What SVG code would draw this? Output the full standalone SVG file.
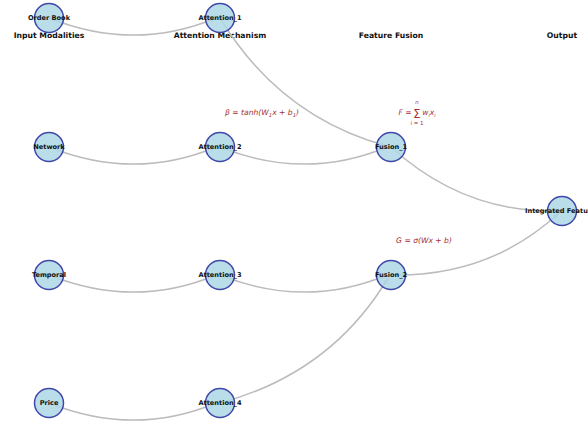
<svg xmlns="http://www.w3.org/2000/svg" width="588" height="421" viewBox="0 0 588 421">
<style>
.edge{fill:none;stroke:#bcbcbc;stroke-width:1.5}
.node circle{fill:#ADD8E6;fill-opacity:0.85;stroke:#3f47aa;stroke-width:1.5}
.node text{font-family:"DejaVu Sans",sans-serif;font-weight:bold;font-size:6.6px;fill:#111;text-anchor:middle;dominant-baseline:central}
.hdr{font-family:"DejaVu Sans",sans-serif;font-weight:bold;font-size:7.7px;fill:#111;text-anchor:middle}
.eq{font-family:"DejaVu Sans",sans-serif;font-style:italic;font-size:7.6px;fill:#a63030;text-anchor:middle}
.eqs{font-family:"DejaVu Sans",sans-serif;font-size:5.5px;fill:#a63030;text-anchor:middle}
</style>
<defs>
<marker id="arr" viewBox="0 0 10 10" refX="10" refY="5" markerWidth="6" markerHeight="6" orient="auto" markerUnits="userSpaceOnUse">
<path d="M0,1 L10,5 L0,9 z" fill="#bcbcbc"/>
</marker>
</defs>
<rect width="588" height="421" fill="#ffffff"/>
<g id="headers">
<text class="hdr" x="49" y="38">Input Modalities</text>
<text class="hdr" x="220" y="38">Attention Mechanism</text>
<text class="hdr" x="391" y="38">Feature Fusion</text>
<text class="hdr" x="562" y="38">Output</text>
</g>
<g id="connectors">
<path class="edge" marker-end="url(#arr)" d="M49,18 Q134.5,52.2 216,18"/>
<path class="edge" marker-end="url(#arr)" d="M49,147 Q134.5,181.2 216,147"/>
<path class="edge" marker-end="url(#arr)" d="M49,275 Q134.5,309.2 216,275"/>
<path class="edge" marker-end="url(#arr)" d="M49,403 Q134.5,437.2 216,403"/>
<path class="edge" marker-end="url(#arr)" d="M220,18 Q279.7,116.7 387,146"/>
<path class="edge" marker-end="url(#arr)" d="M220,147 Q305.5,181.2 387,147"/>
<path class="edge" marker-end="url(#arr)" d="M220,275 Q305.5,309.2 387,275"/>
<path class="edge" marker-end="url(#arr)" d="M220,403 Q331.1,373.2 388,278"/>
<path class="edge" marker-end="url(#arr)" d="M391,147 Q463.7,213.2 558,211"/>
<path class="edge" marker-end="url(#arr)" d="M391,275 Q489.3,277.2 559,213"/>
</g>
<g id="n_orderbook" class="node"><circle cx="49" cy="18" r="14.5"/><text x="49" y="18">Order Book</text></g>
<g id="n_network" class="node"><circle cx="49" cy="147" r="14.5"/><text x="49" y="147">Network</text></g>
<g id="n_temporal" class="node"><circle cx="49" cy="275" r="14.5"/><text x="49" y="275">Temporal</text></g>
<g id="n_price" class="node"><circle cx="49" cy="403" r="14.5"/><text x="49" y="403">Price</text></g>
<g id="n_att1" class="node"><circle cx="220" cy="18" r="14.5"/><text x="220" y="18">Attention_1</text></g>
<g id="n_att2" class="node"><circle cx="220" cy="147" r="14.5"/><text x="220" y="147">Attention_2</text></g>
<g id="n_att3" class="node"><circle cx="220" cy="275" r="14.5"/><text x="220" y="275">Attention_3</text></g>
<g id="n_att4" class="node"><circle cx="220" cy="403" r="14.5"/><text x="220" y="403">Attention_4</text></g>
<g id="n_fus1" class="node"><circle cx="391" cy="147" r="14.5"/><text x="391" y="147">Fusion_1</text></g>
<g id="n_fus2" class="node"><circle cx="391" cy="275" r="14.5"/><text x="391" y="275">Fusion_2</text></g>
<g id="n_out" class="node"><circle cx="562" cy="211" r="14.5"/><text x="525" y="211" style="text-anchor:start">Integrated Featu</text></g>
<g id="formulas">
<text class="eq" x="262" y="115">β = tanh(W<tspan font-size="5.3px" dy="2">1</tspan><tspan dy="-2">x + b</tspan><tspan font-size="5.3px" dy="2">1</tspan><tspan dy="-2">)</tspan></text>
<text class="eq" x="405" y="115">F =</text>
<text class="eq" x="417" y="117.5" style="font-size:11.5px;font-style:normal">Σ</text>
<text class="eqs" x="417" y="104" style="font-style:italic">n</text>
<text class="eqs" x="417" y="124.5">i = 1</text>
<text class="eq" x="429" y="115">w<tspan font-size="5px" dy="1.5">i</tspan><tspan dy="-1.5">x</tspan><tspan font-size="5px" dy="1.5">i</tspan></text>
<text class="eq" x="424" y="243">G = σ(Wx + b)</text>
</g>
</svg>
